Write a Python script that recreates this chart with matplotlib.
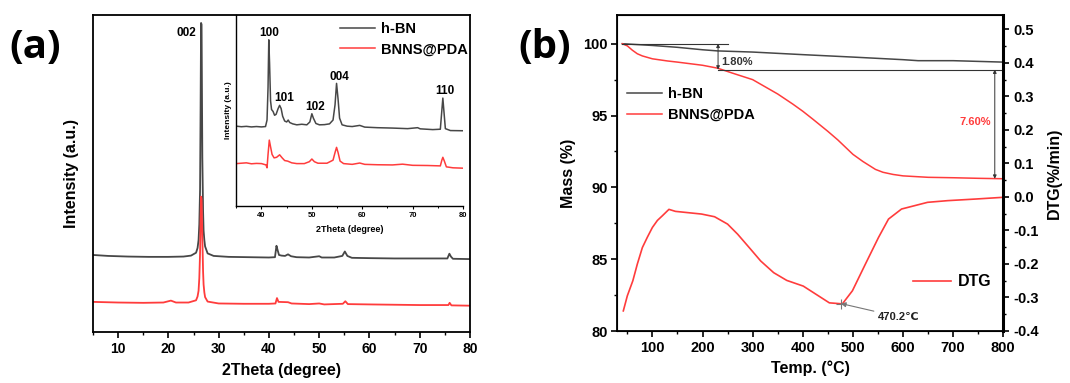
import matplotlib
matplotlib.use('Agg')
import matplotlib.pyplot as plt
from matplotlib.ticker import MultipleLocator, FormatStrFormatter

plt.rcParams['font.family'] = ['Liberation Sans', 'DejaVu Sans']
plt.rcParams['font.weight'] = 'bold'
plt.rcParams['axes.unicode_minus'] = False

# ---------------- data: XRD main panel ----------------
xrd_hbn_x = [5, 8, 12, 16, 20, 23, 24.5, 25.5, 25.8, 26.0, 26.15, 26.3, 26.4, 26.5, 26.6, 26.75,
             26.9, 27.0, 27.15, 27.3, 27.8, 29,
             32, 36, 40, 41.2, 41.5, 41.7, 42.0, 42.5, 43.2, 43.8, 44.4, 45.5, 48, 50.0, 50.5, 53,
             54.6, 55.1, 55.6, 56.5, 60, 65, 70, 75.5, 75.9, 76.2, 76.6, 80]
xrd_hbn_y = [0.243, 0.240, 0.238, 0.237, 0.237, 0.238, 0.241, 0.250, 0.265, 0.290, 0.340, 0.450,
             0.700, 0.975, 0.970, 0.550, 0.380, 0.320, 0.290, 0.270, 0.248, 0.240, 0.237, 0.236,
             0.235, 0.236, 0.272, 0.260, 0.243, 0.241, 0.240, 0.245, 0.239, 0.236, 0.235, 0.239,
             0.235, 0.235, 0.240, 0.254, 0.240, 0.234, 0.233, 0.232, 0.232, 0.232, 0.247, 0.238,
             0.231, 0.230]
xrd_pda_x = [5, 10, 15, 19, 20.5, 21.5, 24, 25.5, 25.8, 26.0, 26.15, 26.3, 26.4, 26.5, 26.6, 26.75,
             26.9, 27.0, 27.15, 27.3, 27.8,
             30, 35, 40, 41.3, 41.6, 41.9, 43.8, 44.5, 48, 50, 51, 54.7, 55.2, 55.7, 60, 70, 75.7,
             75.95, 76.3, 80]
xrd_pda_y = [0.095, 0.093, 0.092, 0.093, 0.099, 0.093, 0.093, 0.100, 0.112, 0.130, 0.170, 0.250,
             0.350, 0.427, 0.420, 0.300, 0.190, 0.150, 0.125, 0.110, 0.096, 0.090, 0.089, 0.089,
             0.090, 0.107, 0.095, 0.094, 0.090, 0.088, 0.090, 0.087, 0.089, 0.097, 0.088, 0.087,
             0.085, 0.085, 0.092, 0.084, 0.083]

# ---------------- data: XRD inset ----------------
ins_hbn_x = [35, 36, 37, 38, 39, 40, 40.8, 41.1, 41.3, 41.45, 41.6, 41.8, 42.0, 42.3, 42.6, 42.9,
             43.3, 43.6, 43.9, 44.2, 44.6, 45.0, 45.3, 45.6, 46.2, 47, 48, 49, 49.6, 50.0, 50.3,
             50.8, 51.5, 52.5, 53.5, 54.2, 54.6, 54.9, 55.2, 55.5, 56, 57, 58, 59.5, 60.5, 63, 66,
             69, 71, 71.5, 74, 75.5, 75.8, 76.0, 76.2, 76.5, 77.5, 80]
ins_hbn_y = [0.418, 0.415, 0.417, 0.414, 0.416, 0.414, 0.416, 0.450, 0.620, 0.870, 0.750, 0.550,
             0.505, 0.495, 0.475, 0.480, 0.510, 0.527, 0.510, 0.470, 0.445, 0.440, 0.450, 0.437,
             0.430, 0.425, 0.428, 0.425, 0.440, 0.483, 0.460, 0.432, 0.425, 0.426, 0.430, 0.450,
             0.530, 0.642, 0.560, 0.460, 0.425, 0.418, 0.416, 0.422, 0.413, 0.410, 0.408, 0.405,
             0.410, 0.404, 0.400, 0.402, 0.500, 0.565, 0.500, 0.405, 0.395, 0.394]
ins_pda_x = [35, 36, 37, 38, 39, 40, 40.9, 41.1, 41.3, 41.55, 41.8, 42.1, 42.5, 43.0, 43.6, 44.1,
             44.6, 45.2, 46, 47, 48.5, 49.5, 50.0, 50.5, 51.2, 53, 54.2, 54.6, 54.9, 55.2, 55.6,
             56.3, 58, 59.5, 60.5, 63, 66, 68, 70, 73, 75.5, 75.8, 76.0, 76.3, 76.7, 78, 80]
ins_pda_y = [0.222, 0.224, 0.226, 0.221, 0.223, 0.222, 0.215, 0.200, 0.270, 0.345, 0.310, 0.270,
             0.252, 0.255, 0.268, 0.252, 0.238, 0.235, 0.226, 0.222, 0.222, 0.232, 0.246, 0.232,
             0.224, 0.224, 0.240, 0.280, 0.307, 0.280, 0.235, 0.222, 0.218, 0.225, 0.218, 0.216,
             0.215, 0.219, 0.213, 0.212, 0.210, 0.240, 0.255, 0.235, 0.205, 0.200, 0.198]
peak_labels_main = ['002']
peak_pos_main = [(23.5, 0.943)]
peak_labels_ins = ['100', '101', '102', '004', '110']
peak_pos_ins = [(41.5, 0.906), (44.5, 0.565), (50.6, 0.518), (55.4, 0.675), (76.4, 0.602)]

# ---------------- data: TGA / DTG ----------------
tga_hbn_x = [40, 100, 150, 200, 230, 300, 400, 500, 600, 630, 700, 800]
tga_hbn_y = [100.0, 99.88, 99.75, 99.58, 99.5, 99.42, 99.24, 99.07, 98.89, 98.82, 98.82, 98.72]
tga_pda_x = [40, 50, 60, 70, 80, 100, 130, 150, 200, 230, 260, 300, 320, 350, 380, 400, 420, 450,
             470, 500, 520, 545, 560, 580, 600, 650, 700, 750, 800]
tga_pda_y = [100.0, 99.85, 99.55, 99.3, 99.15, 98.95, 98.8, 98.72, 98.5, 98.3, 97.95, 97.5, 97.1,
             96.5, 95.8, 95.3, 94.75, 93.9, 93.3, 92.3, 91.8, 91.25, 91.05, 90.9, 90.8, 90.7,
             90.67, 90.63, 90.6]
dtg_x = [42, 50, 61, 70, 80, 90, 100, 110, 120, 133, 146, 198, 224, 250, 270, 296, 316, 342, 368,
         401, 427, 453, 479, 499, 525, 551, 571, 597, 623, 649, 689, 747, 800]
dtg_y = [-0.340, -0.295, -0.250, -0.200, -0.151, -0.120, -0.091, -0.070, -0.056, -0.037, -0.043,
         -0.051, -0.059, -0.081, -0.111, -0.156, -0.191, -0.226, -0.249, -0.266, -0.291, -0.316,
         -0.319, -0.280, -0.200, -0.121, -0.066, -0.036, -0.026, -0.016, -0.011, -0.006, -0.001]
dtg_peak_T = 476
dtg_peak_v = -0.318

RED = '#ff3c3c'
GRAY = '#474747'

fig = plt.figure(figsize=(10.7, 3.83), dpi=100)
W, H = 1070, 383

# ================= panel (a) =================
axA = fig.add_axes([93 / W, 51 / H, 377 / W, 317 / H])
axA.plot(xrd_hbn_x, xrd_hbn_y, color=GRAY, lw=1.3, label='h-BN')
axA.plot(xrd_pda_x, xrd_pda_y, color=RED, lw=1.3, label='BNNS@PDA')
axA.set_xlim(5, 80)
axA.set_ylim(0, 1)
axA.set_yticks([])
axA.xaxis.set_major_locator(MultipleLocator(10))
axA.xaxis.set_minor_locator(MultipleLocator(5))
axA.tick_params(axis='x', which='major', direction='out', length=4, width=1.2, labelsize=10, pad=3)
axA.tick_params(axis='x', which='minor', direction='out', length=2.5, width=1.0)
for s in axA.spines.values():
    s.set_linewidth(1.3)
axA.set_xlabel('2Theta (degree)', fontsize=11.5, fontweight='bold', labelpad=5)
axA.set_ylabel('Intensity (a.u.)', fontsize=11.5, fontweight='bold', labelpad=10)
for lab, (px, py) in zip(peak_labels_main, peak_pos_main):
    axA.text(px, py, lab, fontsize=8.5, fontweight='bold', ha='center', va='center')
fig.text(35 / W, 1 - 47 / H, '(a)', fontsize=29, fontweight='bold', family='Open Sans',
         ha='center', va='center')

# inset
axI = fig.add_axes([236.3 / W, (H - 206) / H, 226.7 / W, 191 / H])
axI.patch.set_alpha(0)
axI.plot(ins_hbn_x, ins_hbn_y, color=GRAY, lw=1.1, label='h-BN')
axI.plot(ins_pda_x, ins_pda_y, color=RED, lw=1.1, label='BNNS@PDA')
axI.set_xlim(35, 80)
axI.set_ylim(0, 1)
axI.set_yticks([])
axI.spines['top'].set_visible(False)
axI.spines['right'].set_visible(False)
axI.xaxis.set_major_locator(MultipleLocator(10))
axI.xaxis.set_minor_locator(MultipleLocator(5))
axI.tick_params(axis='x', which='major', direction='out', length=2.5, width=0.8, labelsize=5.5, pad=2)
axI.tick_params(axis='x', which='minor', direction='out', length=1.5, width=0.7)
for s in axI.spines.values():
    s.set_linewidth(1.0)
axI.set_xlabel('2Theta (degree)', fontsize=6.5, fontweight='bold', labelpad=4)
axI.set_ylabel('Intensity (a.u.)', fontsize=6, fontweight='bold', labelpad=3)
for lab, (px, py) in zip(peak_labels_ins, peak_pos_ins):
    axI.text(px, py, lab, fontsize=8.5, fontweight='bold', ha='center', va='center')
axI.legend(loc='upper left', bbox_to_anchor=(0.457, 0.965), frameon=False, borderpad=0,
           borderaxespad=0, handlelength=2.4, handletextpad=0.4, labelspacing=0.45,
           prop={'size': 10.5, 'weight': 'bold'})

# ================= panel (b) =================
axB = fig.add_axes([617.3 / W, 52 / H, 386 / W, 316 / H])
axB.plot(tga_hbn_x, tga_hbn_y, color=GRAY, lw=1.1, label='h-BN')
axB.plot(tga_pda_x, tga_pda_y, color=RED, lw=1.1, label='BNNS@PDA')
axB.set_xlim(30, 800)
axB.set_ylim(80, 102)
axB.xaxis.set_major_locator(MultipleLocator(100))
axB.xaxis.set_minor_locator(MultipleLocator(50))
axB.yaxis.set_major_locator(MultipleLocator(5))
axB.yaxis.set_minor_locator(MultipleLocator(2.5))
axB.tick_params(which='major', direction='out', length=4, width=1.2, labelsize=10.5, pad=3)
axB.tick_params(which='minor', direction='out', length=2.5, width=1.0)
for s in axB.spines.values():
    s.set_linewidth(1.3)
axB.set_xlabel('Temp. (°C)', fontsize=11.5, fontweight='bold', labelpad=4)
axB.set_ylabel('Mass (%)', fontsize=11.5, fontweight='bold', labelpad=5)

# annotations for mass loss
ann_kw = dict(color='#333333', lw=0.8)
axB.plot([40, 251], [100, 100], **ann_kw)
axB.plot([230, 800], [98.2, 98.2], **ann_kw)
axB.annotate('', xy=(231, 98.2), xytext=(231, 100),
             arrowprops=dict(arrowstyle='<|-|>', color='#333333', lw=0.7,
                             mutation_scale=5, shrinkA=0, shrinkB=0))
axB.text(237, 98.72, '1.80%', fontsize=8, fontweight='bold', color='#333333',
         ha='left', va='center')
axB.annotate('', xy=(783, 90.6), xytext=(783, 98.2),
             arrowprops=dict(arrowstyle='<|-|>', color='#333333', lw=0.7,
                             mutation_scale=5, shrinkA=0, shrinkB=0))
axB.text(776, 94.56, '7.60%', fontsize=8, fontweight='bold', color=RED,
         ha='right', va='center')
axB.legend(loc='upper left', bbox_to_anchor=(0.025, 0.772), frameon=False, borderpad=0,
           borderaxespad=0, handlelength=2.4, handletextpad=0.4, labelspacing=0.45,
           prop={'size': 10.5, 'weight': 'bold'})

axB2 = axB.twinx()
axB2.plot(dtg_x, dtg_y, color=RED, lw=1.2, label='DTG')
axB2.set_ylim(-0.4, 0.543)
axB2.yaxis.set_major_locator(MultipleLocator(0.1))
axB2.yaxis.set_minor_locator(MultipleLocator(0.05))
axB2.yaxis.set_major_formatter(FormatStrFormatter('%.1f'))
axB2.tick_params(which='major', direction='out', length=4, width=1.2, labelsize=10.5, pad=3)
axB2.tick_params(which='minor', direction='out', length=2.5, width=1.0)
axB2.spines['right'].set_linewidth(2.2)
axB2.set_ylabel('DTG(%/min)', fontsize=11.5, fontweight='bold', labelpad=6)
axB2.plot([dtg_peak_T], [dtg_peak_v], marker='+', color='#777777', ms=7, mew=0.8)
axB2.annotate('470.2℃', xy=(dtg_peak_T, dtg_peak_v), xytext=(550, -0.358),
              fontsize=8, fontweight='bold', color='#222222', ha='left', va='center',
              arrowprops=dict(arrowstyle='-|>', color='#777777', lw=0.8,
                              mutation_scale=7, shrinkA=1, shrinkB=0))
axB2.legend(loc='upper left', bbox_to_anchor=(0.766, 0.18), frameon=False, borderpad=0,
            borderaxespad=0, handlelength=2.4, handletextpad=0.4,
            prop={'size': 11.5, 'weight': 'bold'})
fig.text(545 / W, 1 - 47 / H, '(b)', fontsize=29, fontweight='bold', family='Open Sans',
         ha='center', va='center')

fig.savefig('out.png', dpi=100)
